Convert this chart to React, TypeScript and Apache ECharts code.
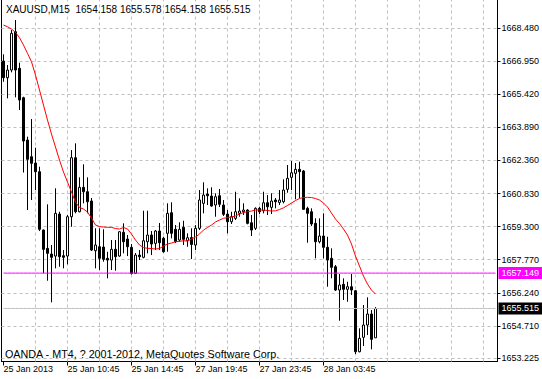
import React, { useEffect, useRef } from "react";
import * as echarts from "echarts";

const symbolName = "XAUUSD,M15";
const footerText = "OANDA - MT4, ? 2001-2012, MetaQuotes Software Corp.";

const opens = [
  1666.954, 1666.182, 1666.538, 1668.309, 1666.617, 1665.258, 1663.302, 1662.53, 1662.239, 1661.837,
  1659.141, 1658.295, 1658.031, 1657.939, 1659.881, 1657.953, 1657.939, 1659.756, 1662.484, 1659.987,
  1661.115, 1660.912, 1660.482, 1658.184, 1658.369, 1658.355, 1657.833, 1657.754, 1658.249, 1657.939,
  1659.035, 1658.725, 1658.341, 1657.139, 1657.985, 1657.879, 1658.6, 1658.91, 1658.526, 1659.095,
  1658.757, 1658.988, 1659.941, 1659.174, 1658.679, 1659.266, 1658.646, 1658.794, 1658.448, 1659.22,
  1660.375, 1660.805, 1660.713, 1660.297, 1660.727, 1660.297, 1659.881, 1659.525, 1659.682, 1659.913,
  1659.987, 1660.066, 1659.479, 1659.22, 1660.144, 1660.033, 1660.403, 1660.19, 1660.528, 1660.416,
  1660.449, 1661.023, 1661.577, 1661.762, 1661.947, 1661.869, 1660.144, 1659.987, 1659.451, 1658.6,
  1658.864, 1658.341, 1657.833, 1657.444, 1656.367, 1656.631, 1656.4, 1656.52, 1656.335, 1653.514,
  1654.18, 1654.749, 1655.258, 1654.158,
];
const highs = [
  1667.264, 1666.769, 1668.388, 1668.85, 1666.876, 1665.304, 1663.455, 1664.273, 1662.946, 1662.068,
  1659.164, 1660.329, 1658.448, 1661.069, 1659.987, 1658.217, 1659.835, 1662.839, 1663.149, 1661.577,
  1662.179, 1661.577, 1660.62, 1659.22, 1659.22, 1659.174, 1658.138, 1658.679, 1658.679, 1659.095,
  1659.451, 1658.91, 1658.494, 1658.078, 1658.217, 1660.033, 1660.033, 1659.095, 1659.141, 1659.465,
  1658.831, 1660.375, 1660.422, 1659.372, 1659.497, 1659.571, 1658.988, 1659.22, 1659.372, 1660.99,
  1661.346, 1661.069, 1661.115, 1660.838, 1661.037, 1660.528, 1660.066, 1659.987, 1660.912, 1660.607,
  1660.375, 1660.098, 1659.835, 1660.19, 1660.218, 1660.912, 1660.759, 1660.838, 1660.62, 1660.99,
  1661.485, 1662.146, 1662.331, 1662.239, 1662.299, 1661.915, 1660.218, 1660.144, 1659.682, 1659.682,
  1659.913, 1658.831, 1658.295, 1657.523, 1657.107, 1656.908, 1656.751, 1657.107, 1656.367, 1654.596,
  1655.674, 1656.029, 1655.443, 1655.578,
];
const lows = [
  1665.997, 1665.23, 1666.432, 1665.276, 1664.689, 1661.799, 1660.066, 1660.528, 1660.99, 1659.095,
  1657.139, 1656.797, 1655.799, 1657.37, 1657.444, 1657.37, 1657.555, 1659.294, 1659.913, 1659.959,
  1660.375, 1659.913, 1658.17, 1657.37, 1657.292, 1657.676, 1656.908, 1657.292, 1657.26, 1657.907,
  1658.064, 1657.939, 1657.084, 1657.107, 1657.754, 1657.833, 1658.064, 1657.985, 1658.217, 1658.217,
  1658.092, 1658.138, 1658.757, 1658.54, 1658.6, 1658.448, 1658.369, 1657.8, 1658.217, 1659.141,
  1659.913, 1660.297, 1660.218, 1659.756, 1660.204, 1659.789, 1658.988, 1659.419, 1659.603, 1659.756,
  1659.835, 1659.405, 1658.864, 1659.141, 1659.881, 1659.913, 1659.835, 1659.881, 1660.144, 1660.297,
  1660.375, 1660.866, 1660.99, 1660.56, 1660.607, 1660.066, 1658.554, 1659.326, 1657.833, 1658.526,
  1657.833, 1656.52, 1656.908, 1656.321, 1654.948, 1655.905, 1655.826, 1656.136, 1653.408, 1653.487,
  1653.778, 1654.286, 1653.625, 1654.158,
];
const closes = [
  1666.182, 1666.538, 1668.235, 1666.538, 1665.152, 1663.256, 1662.41, 1662.225, 1661.837, 1659.174,
  1658.249, 1658.064, 1657.879, 1659.913, 1657.907, 1657.879, 1659.756, 1662.484, 1659.987, 1661.115,
  1660.912, 1660.449, 1658.216, 1658.448, 1657.833, 1657.787, 1657.754, 1658.249, 1657.907, 1659.062,
  1658.6, 1658.369, 1657.13, 1657.985, 1657.907, 1658.646, 1658.91, 1658.494, 1659.095, 1658.554,
  1658.138, 1659.913, 1658.988, 1658.6, 1659.174, 1658.711, 1658.785, 1658.471, 1659.22, 1660.53,
  1660.759, 1660.727, 1660.25, 1660.681, 1660.329, 1659.867, 1659.525, 1659.756, 1659.987, 1660.019,
  1660.066, 1659.451, 1659.141, 1660.144, 1659.987, 1660.403, 1660.218, 1660.482, 1660.449, 1660.528,
  1660.99, 1661.531, 1661.79, 1661.947, 1661.837, 1660.098, 1659.913, 1659.419, 1658.6, 1658.864,
  1658.341, 1657.754, 1657.417, 1656.367, 1656.598, 1656.4, 1656.52, 1656.367, 1653.514, 1654.134,
  1654.749, 1655.258, 1654.088, 1655.515,
];
const maValues = [
  1668.619, 1668.54, 1668.434, 1668.281, 1668.032, 1667.694, 1667.31, 1666.922, 1666.307, 1665.614,
  1664.92, 1664.227, 1663.579, 1662.978, 1662.377, 1661.822, 1661.36, 1660.898, 1660.435, 1660.181,
  1660.112, 1659.973, 1659.696, 1659.372, 1659.302, 1659.279, 1659.266, 1659.266, 1659.21, 1659.187,
  1659.256, 1659.187, 1658.956, 1658.679, 1658.448, 1658.332, 1658.295, 1658.286, 1658.263, 1658.286,
  1658.402, 1658.494, 1658.54, 1658.6, 1658.619, 1658.646, 1658.633, 1658.725, 1658.818, 1658.956,
  1659.141, 1659.256, 1659.372, 1659.511, 1659.603, 1659.682, 1659.719, 1659.742, 1659.788, 1659.881,
  1659.95, 1659.987, 1660.019, 1660.066, 1660.066, 1660.066, 1660.043, 1660.019, 1660.029, 1660.089,
  1660.168, 1660.274, 1660.389, 1660.505, 1660.598, 1660.644, 1660.653, 1660.644, 1660.598, 1660.528,
  1660.389, 1660.204, 1659.927, 1659.649, 1659.441, 1659.187, 1658.91, 1658.494, 1657.939, 1657.477,
  1657.014, 1656.644, 1656.367, 1656.182,
];

const priceTicks = [
  1668.48, 1666.95, 1665.42, 1663.89, 1662.36, 1660.83, 1659.3, 1657.77, 1656.24, 1654.71, 1653.225,
];
const timeLabels = ["25 Jan 2013", "25 Jan 10:45", "25 Jan 14:45", "27 Jan 19:45", "27 Jan 23:45", "28 Jan 03:45"];
const timeLabelBars = [0, 16, 32, 48, 64, 80];
const verticalGridBars = [8, 16, 24, 32, 40, 48, 56, 64, 72, 80, 88, 96, 104, 112, 120];
const slotCount = 124;
const alertLevel = 1657.149;
const bidLevel = 1655.515;
const yMin = 1653.063;
const yMax = 1669.776;

const FONT = "'Liberation Sans', Arial, sans-serif";

export default function App() {
  const ref = useRef<HTMLDivElement>(null);
  useEffect(() => {
    document.body.style.margin = "0";
    if (!ref.current) return;
    const chart = echarts.init(ref.current, undefined, { renderer: "svg" });
    const categories = Array.from({ length: slotCount }, (_, i) => String(i));
    const candles = opens.map((o, i) => [o, closes[i], lows[i], highs[i]]);
    const last = opens.length - 1;
    const f3 = (v: number) => v.toFixed(3);
    const header = `${symbolName}  ${f3(opens[last])} ${f3(highs[last])} ${f3(lows[last])} ${f3(closes[last])}`;
    const showTime = (i: number) => timeLabelBars.indexOf(i) >= 0;

    const levelLine = (name: string, value: number, lineColor: string, boxColor: string, z: number) => ({
      name,
      type: "line",
      data: categories.map(() => value),
      silent: true,
      symbol: "none",
      color: lineColor,
      z,
      lineStyle: { color: lineColor, width: 1, type: "solid" },
      endLabel: {
        show: true,
        distance: 3,
        formatter: () => f3(value),
        color: "#ffffff",
        backgroundColor: boxColor,
        padding: [2, 3, 1, 3],
        fontSize: 9,
        fontFamily: FONT,
      },
    });

    chart.setOption({
      animation: false,
      backgroundColor: "#ffffff",
      grid: { left: 1.5, right: 44.5, top: 0, bottom: 17.5, show: false },
      xAxis: {
        type: "category",
        data: categories,
        boundaryGap: true,
        axisLine: { show: true, onZero: false, lineStyle: { color: "#000", width: 1 } },
        axisTick: {
          show: true,
          alignWithLabel: true,
          interval: (i: number) => showTime(i),
          length: 4,
          lineStyle: { color: "#000" },
        },
        axisLabel: {
          show: true,
          interval: (i: number) => showTime(i),
          formatter: (_v: string, i: number) => {
            const k = timeLabelBars.indexOf(i);
            return k >= 0 ? timeLabels[k] : "";
          },
          align: "left",
          margin: 3,
          color: "#000",
          fontSize: 9,
          fontFamily: FONT,
        },
        splitLine: { show: false },
      },
      yAxis: [
        {
          type: "value",
          position: "right",
          min: yMin,
          max: yMax,
          axisLine: { show: true, onZero: false, lineStyle: { color: "#000", width: 1 } },
          axisTick: { show: true, length: 3, customValues: priceTicks, lineStyle: { color: "#000" } },
          axisLabel: {
            show: true,
            customValues: priceTicks,
            formatter: (v: number) => v.toFixed(3),
            margin: 4,
            color: "#000",
            fontSize: 9,
            fontFamily: FONT,
          },
          splitLine: { show: false },
        },
        {
          type: "value",
          position: "left",
          min: yMin,
          max: yMax,
          axisLine: { show: true, onZero: false, lineStyle: { color: "#000", width: 1 } },
          axisTick: { show: false },
          axisLabel: { show: false },
          splitLine: { show: false },
        },
      ],
      graphic: [
        {
          type: "text",
          left: 6,
          top: 4,
          style: { text: header, fill: "#000", font: `10px ${FONT}` },
          z: 10,
        },
        {
          type: "text",
          left: 5,
          top: 348,
          style: { text: footerText, fill: "#000", font: `10.75px ${FONT}` },
          z: 10,
        },
      ],
      series: [
        {
          name: "grid",
          type: "line",
          data: [],
          silent: true,
          z: 1,
          markLine: {
            silent: true,
            z: 1,
            symbol: ["none", "none"],
            label: { show: false },
            emphasis: { disabled: true },
            lineStyle: { color: "#c0c0c0", type: [3, 3], width: 1 },
            data: [
              ...priceTicks.map((v) => ({ yAxis: v })),
              ...verticalGridBars.map((b) => ({ xAxis: b })),
            ],
          },
        },
        {
          name: symbolName,
          type: "candlestick",
          data: candles,
          barWidth: 2,
          z: 2,
          itemStyle: {
            color: "#ffffff",
            color0: "#000000",
            borderColor: "#000000",
            borderColor0: "#000000",
            borderWidth: 1,
          },
        },
        {
          name: "MA",
          type: "line",
          data: maValues,
          symbol: "none",
          z: 3,
          lineStyle: { color: "#ff0000", width: 1 },
        },
        levelLine("bid", bidLevel, "#c0c0c0", "#000000", 4),
        levelLine("alert", alertLevel, "#ff00ff", "#ff00ff", 5),
      ],
    });
    return () => chart.dispose();
  }, []);
  return <div ref={ref} style={{ width: 542, height: 379 }} />;
}
